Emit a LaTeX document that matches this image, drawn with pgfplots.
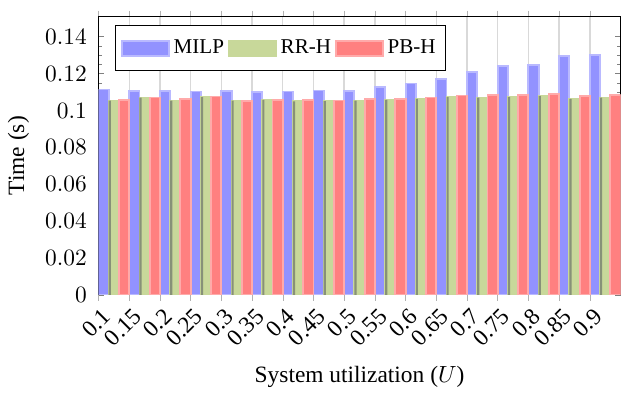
\documentclass[border=0pt]{standalone}
\usepackage{fontspec}
\setmainfont{Liberation Serif}
\usepackage{pgfplots}
\usepackage{pgfplotstable}
\pgfplotsset{compat=1.18}
\definecolor{milpfill}{RGB}{146,146,255}
\definecolor{milpdraw}{RGB}{185,185,255}
\definecolor{rrhfill}{RGB}{200,216,154}
\definecolor{rrhdraw}{RGB}{200,216,154}
\definecolor{rrhedge}{RGB}{135,145,120}
\definecolor{pbhfill}{RGB}{255,128,128}
\definecolor{pbhdraw}{RGB}{255,170,170}
\pgfplotstableread{
u     milp    rrh     pbh
0.1   0.1114  0.1054  0.1058
0.15  0.1107  0.1070  0.1070
0.2   0.1105  0.1054  0.1060
0.25  0.1103  0.1072  0.1076
0.3   0.1107  0.1054  0.1052
0.35  0.1101  0.1058  0.1058
0.4   0.1103  0.1049  0.1058
0.45  0.1108  0.1050  0.1054
0.5   0.1107  0.1054  0.1060
0.55  0.1126  0.1058  0.1061
0.6   0.1146  0.1063  0.1070
0.65  0.1172  0.1072  0.1081
0.7   0.1208  0.1069  0.1085
0.75  0.1240  0.1072  0.1083
0.8   0.1248  0.1078  0.1090
0.85  0.1293  0.1063  0.1078
0.9   0.1300  0.1069  0.1085
}\data
\begin{document}
\begin{tikzpicture}
\begin{axis}[
  scale only axis,
  width=223pt, height=119pt,
  ybar=0pt, bar width=0.3333,
  xmin=0, xmax=17, ymin=0, ymax=0.151,
  xtick={0,...,16},
  xticklabels={0.1,0.15,0.2,0.25,0.3,0.35,0.4,0.45,0.5,0.55,0.6,0.65,0.7,0.75,0.8,0.85,0.9},
  x tick label style={rotate=45, anchor=north east, inner sep=1pt, yshift=-1.5pt},
  xtick align=outside, xtick style={draw=gray!60},
  major tick length=2.5pt,
  ytick={0,0.02,...,0.14},
  minor y tick num=3,
  minor tick length=1.5pt,
  scaled y ticks=false,
  yticklabel style={/pgf/number format/fixed, /pgf/number format/precision=2, xshift=-1.5pt},
  xmajorgrids, major grid style={gray!30, line width=0.6pt},
  xlabel={System utilization ($U$)},
  xlabel style={yshift=-3pt},
  ylabel={Time (s)},
  legend style={at={(0.032,0.968)}, anchor=north west, legend columns=3,
    draw=black, fill=white, inner xsep=2.3pt, inner ysep=4.2pt,
    nodes={inner sep=1.7pt}, font=\small,
    /tikz/every even column/.append style={column sep=0pt}},
  legend image code/.code={\draw[#1, line width=0.8pt] (0pt,-3.25pt) rectangle (20pt,3.25pt);},
  every axis plot/.append style={line width=0.8pt},
  extra description/.code={\path (rel axis cs:0,1) ++(0,7pt);},
]
\addplot[draw=milpdraw, fill=milpfill, bar shift=-0.3333] table[x expr=\coordindex+0.5, y=milp]{\data};
\addplot[draw=rrhdraw, fill=rrhfill, bar shift=0] table[x expr=\coordindex+0.5, y=rrh]{\data};
\addplot[draw=none, fill=rrhedge, bar width=0.07, bar shift=-0.1317, forget plot] table[x expr=\coordindex+0.5, y=rrh]{\data};
\addplot[draw=pbhdraw, fill=pbhfill, bar shift=0.3333] table[x expr=\coordindex+0.5, y=pbh]{\data};
\legend{MILP, RR-H, PB-H}
\end{axis}
\end{tikzpicture}
\end{document}
